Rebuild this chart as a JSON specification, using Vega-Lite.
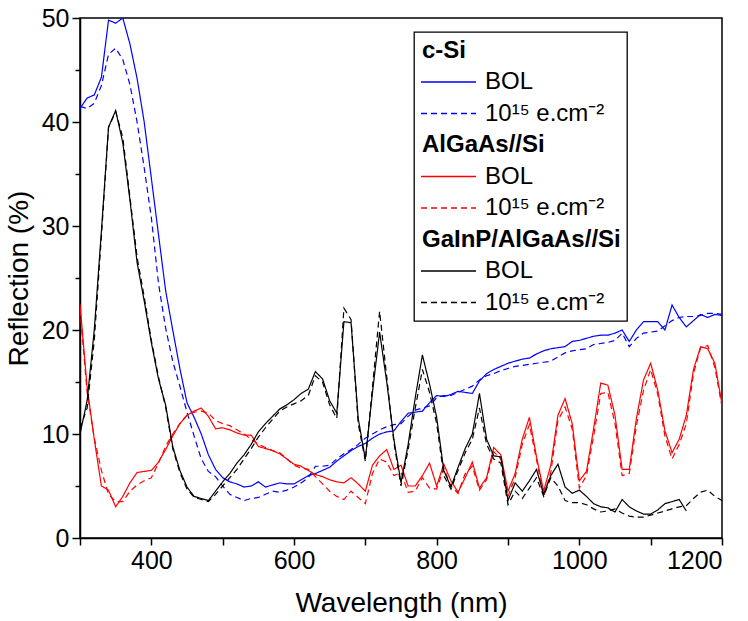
{
  "$schema": "https://vega.github.io/schema/vega-lite/v6.json",
  "width": 642,
  "height": 520,
  "autosize": {"type": "none"},
  "padding": {"left": 80, "top": 18, "right": 26, "bottom": 83},
  "background": "white",
  "config": {
    "font": "Liberation Sans",
    "view": {"stroke": "black", "strokeWidth": 1.5}
  },
  "data": {"values": [
    {"w":300,"c-Si|BOL":41.3,"c-Si|irr":41.5,"AlGaAs//Si|BOL":22.5,"AlGaAs//Si|irr":22.0,"GaInP/AlGaAs//Si|BOL":10.0,"GaInP/AlGaAs//Si|irr":10.5},
    {"w":310,"c-Si|BOL":42.3,"c-Si|irr":41.3,"AlGaAs//Si|BOL":14.5,"AlGaAs//Si|irr":14.0,"GaInP/AlGaAs//Si|BOL":13.2,"GaInP/AlGaAs//Si|irr":12.5},
    {"w":320,"c-Si|BOL":42.6,"c-Si|irr":41.8,"AlGaAs//Si|BOL":9.5,"AlGaAs//Si|irr":9.6,"GaInP/AlGaAs//Si|BOL":20.0,"GaInP/AlGaAs//Si|irr":19.0},
    {"w":330,"c-Si|BOL":44.3,"c-Si|irr":43.5,"AlGaAs//Si|BOL":5.0,"AlGaAs//Si|irr":6.5,"GaInP/AlGaAs//Si|BOL":29.5,"GaInP/AlGaAs//Si|irr":29.0},
    {"w":340,"c-Si|BOL":49.8,"c-Si|irr":46.5,"AlGaAs//Si|BOL":4.6,"AlGaAs//Si|irr":4.2,"GaInP/AlGaAs//Si|BOL":39.5,"GaInP/AlGaAs//Si|irr":39.5},
    {"w":350,"c-Si|BOL":49.5,"c-Si|irr":47.1,"AlGaAs//Si|BOL":3.0,"AlGaAs//Si|irr":3.5,"GaInP/AlGaAs//Si|BOL":41.1,"GaInP/AlGaAs//Si|irr":41.0},
    {"w":360,"c-Si|BOL":50.0,"c-Si|irr":46.0,"AlGaAs//Si|BOL":4.0,"AlGaAs//Si|irr":3.5,"GaInP/AlGaAs//Si|BOL":38.0,"GaInP/AlGaAs//Si|irr":38.5},
    {"w":370,"c-Si|BOL":47.5,"c-Si|irr":43.6,"AlGaAs//Si|BOL":5.3,"AlGaAs//Si|irr":4.5,"GaInP/AlGaAs//Si|BOL":32.5,"GaInP/AlGaAs//Si|irr":32.8},
    {"w":380,"c-Si|BOL":44.2,"c-Si|irr":40.0,"AlGaAs//Si|BOL":6.3,"AlGaAs//Si|irr":5.1,"GaInP/AlGaAs//Si|BOL":26.5,"GaInP/AlGaAs//Si|irr":27.0},
    {"w":390,"c-Si|BOL":40.0,"c-Si|irr":35.6,"AlGaAs//Si|BOL":6.4,"AlGaAs//Si|irr":5.5,"GaInP/AlGaAs//Si|BOL":22.8,"GaInP/AlGaAs//Si|irr":23.2},
    {"w":400,"c-Si|BOL":34.6,"c-Si|irr":30.8,"AlGaAs//Si|BOL":6.5,"AlGaAs//Si|irr":5.8,"GaInP/AlGaAs//Si|BOL":18.8,"GaInP/AlGaAs//Si|irr":19.0},
    {"w":410,"c-Si|BOL":29.2,"c-Si|irr":24.5,"AlGaAs//Si|BOL":7.3,"AlGaAs//Si|irr":7.2,"GaInP/AlGaAs//Si|BOL":15.3,"GaInP/AlGaAs//Si|irr":15.5},
    {"w":420,"c-Si|BOL":23.8,"c-Si|irr":20.2,"AlGaAs//Si|BOL":8.5,"AlGaAs//Si|irr":8.8,"GaInP/AlGaAs//Si|BOL":12.8,"GaInP/AlGaAs//Si|irr":12.6},
    {"w":430,"c-Si|BOL":20.0,"c-Si|irr":17.0,"AlGaAs//Si|BOL":9.8,"AlGaAs//Si|irr":10.0,"GaInP/AlGaAs//Si|BOL":8.8,"GaInP/AlGaAs//Si|irr":8.6},
    {"w":440,"c-Si|BOL":16.3,"c-Si|irr":14.6,"AlGaAs//Si|BOL":11.0,"AlGaAs//Si|irr":11.0,"GaInP/AlGaAs//Si|BOL":6.5,"GaInP/AlGaAs//Si|irr":6.3},
    {"w":450,"c-Si|BOL":13.0,"c-Si|irr":12.1,"AlGaAs//Si|BOL":11.8,"AlGaAs//Si|irr":11.8,"GaInP/AlGaAs//Si|BOL":4.9,"GaInP/AlGaAs//Si|irr":4.7},
    {"w":460,"c-Si|BOL":11.6,"c-Si|irr":9.8,"AlGaAs//Si|BOL":12.2,"AlGaAs//Si|irr":12.1,"GaInP/AlGaAs//Si|BOL":4.0,"GaInP/AlGaAs//Si|irr":3.9},
    {"w":470,"c-Si|BOL":10.0,"c-Si|irr":7.6,"AlGaAs//Si|BOL":12.5,"AlGaAs//Si|irr":12.2,"GaInP/AlGaAs//Si|BOL":3.8,"GaInP/AlGaAs//Si|irr":3.7},
    {"w":480,"c-Si|BOL":8.0,"c-Si|irr":6.4,"AlGaAs//Si|BOL":11.7,"AlGaAs//Si|irr":12.0,"GaInP/AlGaAs//Si|BOL":3.6,"GaInP/AlGaAs//Si|irr":3.5},
    {"w":490,"c-Si|BOL":6.6,"c-Si|irr":5.9,"AlGaAs//Si|BOL":10.5,"AlGaAs//Si|irr":11.3,"GaInP/AlGaAs//Si|BOL":4.5,"GaInP/AlGaAs//Si|irr":4.2},
    {"w":500,"c-Si|BOL":5.8,"c-Si|irr":5.0,"AlGaAs//Si|BOL":10.6,"AlGaAs//Si|irr":11.0,"GaInP/AlGaAs//Si|BOL":5.4,"GaInP/AlGaAs//Si|irr":5.0},
    {"w":510,"c-Si|BOL":5.4,"c-Si|irr":4.2,"AlGaAs//Si|BOL":10.4,"AlGaAs//Si|irr":10.8,"GaInP/AlGaAs//Si|BOL":6.2,"GaInP/AlGaAs//Si|irr":5.8},
    {"w":520,"c-Si|BOL":5.2,"c-Si|irr":3.9,"AlGaAs//Si|BOL":10.1,"AlGaAs//Si|irr":10.4,"GaInP/AlGaAs//Si|BOL":7.2,"GaInP/AlGaAs//Si|irr":6.6},
    {"w":530,"c-Si|BOL":4.9,"c-Si|irr":3.6,"AlGaAs//Si|BOL":9.9,"AlGaAs//Si|irr":10.0,"GaInP/AlGaAs//Si|BOL":8.0,"GaInP/AlGaAs//Si|irr":7.6},
    {"w":540,"c-Si|BOL":5.0,"c-Si|irr":3.8,"AlGaAs//Si|BOL":9.9,"AlGaAs//Si|irr":9.5,"GaInP/AlGaAs//Si|BOL":9.0,"GaInP/AlGaAs//Si|irr":8.6},
    {"w":550,"c-Si|BOL":5.4,"c-Si|irr":3.9,"AlGaAs//Si|BOL":8.8,"AlGaAs//Si|irr":9.0,"GaInP/AlGaAs//Si|BOL":10.2,"GaInP/AlGaAs//Si|irr":9.7},
    {"w":560,"c-Si|BOL":4.9,"c-Si|irr":4.2,"AlGaAs//Si|BOL":8.6,"AlGaAs//Si|irr":8.7,"GaInP/AlGaAs//Si|BOL":11.0,"GaInP/AlGaAs//Si|irr":10.6},
    {"w":570,"c-Si|BOL":5.1,"c-Si|irr":4.5,"AlGaAs//Si|BOL":8.4,"AlGaAs//Si|irr":8.4,"GaInP/AlGaAs//Si|BOL":11.7,"GaInP/AlGaAs//Si|irr":11.4},
    {"w":580,"c-Si|BOL":5.3,"c-Si|irr":4.4,"AlGaAs//Si|BOL":8.1,"AlGaAs//Si|irr":8.2,"GaInP/AlGaAs//Si|BOL":12.4,"GaInP/AlGaAs//Si|irr":12.2},
    {"w":590,"c-Si|BOL":5.2,"c-Si|irr":4.6,"AlGaAs//Si|BOL":7.6,"AlGaAs//Si|irr":7.6,"GaInP/AlGaAs//Si|BOL":12.8,"GaInP/AlGaAs//Si|irr":12.6},
    {"w":600,"c-Si|BOL":5.2,"c-Si|irr":4.9,"AlGaAs//Si|BOL":7.1,"AlGaAs//Si|irr":7.0,"GaInP/AlGaAs//Si|BOL":13.3,"GaInP/AlGaAs//Si|irr":12.9},
    {"w":610,"c-Si|BOL":5.6,"c-Si|irr":5.3,"AlGaAs//Si|BOL":6.9,"AlGaAs//Si|irr":6.7,"GaInP/AlGaAs//Si|BOL":13.9,"GaInP/AlGaAs//Si|irr":13.2},
    {"w":620,"c-Si|BOL":6.0,"c-Si|irr":5.8,"AlGaAs//Si|BOL":6.5,"AlGaAs//Si|irr":6.6,"GaInP/AlGaAs//Si|BOL":14.3,"GaInP/AlGaAs//Si|irr":13.7},
    {"w":630,"c-Si|BOL":6.2,"c-Si|irr":6.9,"AlGaAs//Si|BOL":6.1,"AlGaAs//Si|irr":5.9,"GaInP/AlGaAs//Si|BOL":16.0,"GaInP/AlGaAs//Si|irr":15.6},
    {"w":640,"c-Si|BOL":6.5,"c-Si|irr":6.9,"AlGaAs//Si|BOL":5.9,"AlGaAs//Si|irr":5.2,"GaInP/AlGaAs//Si|BOL":15.3,"GaInP/AlGaAs//Si|irr":15.0},
    {"w":650,"c-Si|BOL":6.8,"c-Si|irr":7.0,"AlGaAs//Si|BOL":5.6,"AlGaAs//Si|irr":4.5,"GaInP/AlGaAs//Si|BOL":13.2,"GaInP/AlGaAs//Si|irr":12.8},
    {"w":660,"c-Si|BOL":7.4,"c-Si|irr":7.6,"AlGaAs//Si|BOL":5.4,"AlGaAs//Si|irr":4.0,"GaInP/AlGaAs//Si|BOL":12.0,"GaInP/AlGaAs//Si|irr":11.5},
    {"w":670,"c-Si|BOL":7.9,"c-Si|irr":8.1,"AlGaAs//Si|BOL":5.3,"AlGaAs//Si|irr":3.7,"GaInP/AlGaAs//Si|BOL":20.8,"GaInP/AlGaAs//Si|irr":22.1},
    {"w":680,"c-Si|BOL":8.4,"c-Si|irr":8.5,"AlGaAs//Si|BOL":5.8,"AlGaAs//Si|irr":4.5,"GaInP/AlGaAs//Si|BOL":20.7,"GaInP/AlGaAs//Si|irr":21.0},
    {"w":690,"c-Si|BOL":8.8,"c-Si|irr":9.0,"AlGaAs//Si|BOL":5.2,"AlGaAs//Si|irr":3.9,"GaInP/AlGaAs//Si|BOL":11.5,"GaInP/AlGaAs//Si|irr":11.0},
    {"w":700,"c-Si|BOL":9.1,"c-Si|irr":9.6,"AlGaAs//Si|BOL":4.5,"AlGaAs//Si|irr":3.3,"GaInP/AlGaAs//Si|BOL":7.6,"GaInP/AlGaAs//Si|irr":7.4},
    {"w":710,"c-Si|BOL":9.6,"c-Si|irr":10.0,"AlGaAs//Si|BOL":7.0,"AlGaAs//Si|irr":6.2,"GaInP/AlGaAs//Si|BOL":14.0,"GaInP/AlGaAs//Si|irr":14.5},
    {"w":720,"c-Si|BOL":10.0,"c-Si|irr":10.4,"AlGaAs//Si|BOL":7.9,"AlGaAs//Si|irr":7.6,"GaInP/AlGaAs//Si|BOL":19.8,"GaInP/AlGaAs//Si|irr":21.8},
    {"w":730,"c-Si|BOL":10.2,"c-Si|irr":10.7,"AlGaAs//Si|BOL":8.5,"AlGaAs//Si|irr":7.3,"GaInP/AlGaAs//Si|BOL":15.0,"GaInP/AlGaAs//Si|irr":15.5},
    {"w":740,"c-Si|BOL":10.3,"c-Si|irr":10.9,"AlGaAs//Si|BOL":6.6,"AlGaAs//Si|irr":6.0,"GaInP/AlGaAs//Si|BOL":9.5,"GaInP/AlGaAs//Si|irr":9.2},
    {"w":750,"c-Si|BOL":11.2,"c-Si|irr":11.0,"AlGaAs//Si|BOL":7.0,"AlGaAs//Si|irr":6.3,"GaInP/AlGaAs//Si|BOL":5.3,"GaInP/AlGaAs//Si|irr":5.0},
    {"w":760,"c-Si|BOL":12.0,"c-Si|irr":11.7,"AlGaAs//Si|BOL":5.0,"AlGaAs//Si|irr":4.4,"GaInP/AlGaAs//Si|BOL":9.0,"GaInP/AlGaAs//Si|irr":8.5},
    {"w":770,"c-Si|BOL":12.1,"c-Si|irr":12.3,"AlGaAs//Si|BOL":5.0,"AlGaAs//Si|irr":4.5,"GaInP/AlGaAs//Si|BOL":13.5,"GaInP/AlGaAs//Si|irr":12.5},
    {"w":780,"c-Si|BOL":12.2,"c-Si|irr":12.5,"AlGaAs//Si|BOL":6.0,"AlGaAs//Si|irr":5.8,"GaInP/AlGaAs//Si|BOL":17.6,"GaInP/AlGaAs//Si|irr":16.2},
    {"w":790,"c-Si|BOL":13.0,"c-Si|irr":12.7,"AlGaAs//Si|BOL":7.2,"AlGaAs//Si|irr":4.8,"GaInP/AlGaAs//Si|BOL":14.8,"GaInP/AlGaAs//Si|irr":14.0},
    {"w":800,"c-Si|BOL":13.7,"c-Si|irr":13.5,"AlGaAs//Si|BOL":5.0,"AlGaAs//Si|irr":4.7,"GaInP/AlGaAs//Si|BOL":11.6,"GaInP/AlGaAs//Si|irr":11.0},
    {"w":810,"c-Si|BOL":13.6,"c-Si|irr":13.7,"AlGaAs//Si|BOL":7.1,"AlGaAs//Si|irr":6.7,"GaInP/AlGaAs//Si|BOL":6.5,"GaInP/AlGaAs//Si|irr":6.0},
    {"w":820,"c-Si|BOL":13.8,"c-Si|irr":13.7,"AlGaAs//Si|BOL":5.5,"AlGaAs//Si|irr":5.0,"GaInP/AlGaAs//Si|BOL":4.9,"GaInP/AlGaAs//Si|irr":4.7},
    {"w":830,"c-Si|BOL":14.1,"c-Si|irr":14.0,"AlGaAs//Si|BOL":4.4,"AlGaAs//Si|irr":4.3,"GaInP/AlGaAs//Si|BOL":6.8,"GaInP/AlGaAs//Si|irr":6.5},
    {"w":840,"c-Si|BOL":14.0,"c-Si|irr":14.3,"AlGaAs//Si|BOL":5.8,"AlGaAs//Si|irr":6.2,"GaInP/AlGaAs//Si|BOL":8.6,"GaInP/AlGaAs//Si|irr":8.2},
    {"w":850,"c-Si|BOL":13.9,"c-Si|irr":14.6,"AlGaAs//Si|BOL":7.3,"AlGaAs//Si|irr":6.9,"GaInP/AlGaAs//Si|BOL":10.0,"GaInP/AlGaAs//Si|irr":9.5},
    {"w":860,"c-Si|BOL":15.1,"c-Si|irr":15.2,"AlGaAs//Si|BOL":4.8,"AlGaAs//Si|irr":4.6,"GaInP/AlGaAs//Si|BOL":13.9,"GaInP/AlGaAs//Si|irr":12.5},
    {"w":870,"c-Si|BOL":15.8,"c-Si|irr":15.6,"AlGaAs//Si|BOL":5.8,"AlGaAs//Si|irr":5.6,"GaInP/AlGaAs//Si|BOL":9.5,"GaInP/AlGaAs//Si|irr":9.0},
    {"w":880,"c-Si|BOL":16.2,"c-Si|irr":15.8,"AlGaAs//Si|BOL":8.7,"AlGaAs//Si|irr":8.3,"GaInP/AlGaAs//Si|BOL":7.9,"GaInP/AlGaAs//Si|irr":7.6},
    {"w":890,"c-Si|BOL":16.5,"c-Si|irr":16.1,"AlGaAs//Si|BOL":8.0,"AlGaAs//Si|irr":7.6,"GaInP/AlGaAs//Si|BOL":7.8,"GaInP/AlGaAs//Si|irr":7.2},
    {"w":900,"c-Si|BOL":16.8,"c-Si|irr":16.3,"AlGaAs//Si|BOL":4.5,"AlGaAs//Si|irr":4.0,"GaInP/AlGaAs//Si|BOL":3.6,"GaInP/AlGaAs//Si|irr":3.2},
    {"w":910,"c-Si|BOL":17.0,"c-Si|irr":16.5,"AlGaAs//Si|BOL":6.2,"AlGaAs//Si|irr":5.8,"GaInP/AlGaAs//Si|BOL":5.3,"GaInP/AlGaAs//Si|irr":4.5},
    {"w":920,"c-Si|BOL":17.2,"c-Si|irr":16.6,"AlGaAs//Si|BOL":9.5,"AlGaAs//Si|irr":9.0,"GaInP/AlGaAs//Si|BOL":4.5,"GaInP/AlGaAs//Si|irr":3.8},
    {"w":930,"c-Si|BOL":17.3,"c-Si|irr":16.7,"AlGaAs//Si|BOL":11.6,"AlGaAs//Si|irr":10.9,"GaInP/AlGaAs//Si|BOL":5.5,"GaInP/AlGaAs//Si|irr":4.8},
    {"w":940,"c-Si|BOL":17.7,"c-Si|irr":16.8,"AlGaAs//Si|BOL":7.8,"AlGaAs//Si|irr":7.5,"GaInP/AlGaAs//Si|BOL":6.6,"GaInP/AlGaAs//Si|irr":5.8},
    {"w":950,"c-Si|BOL":18.0,"c-Si|irr":16.9,"AlGaAs//Si|BOL":4.5,"AlGaAs//Si|irr":4.0,"GaInP/AlGaAs//Si|BOL":4.2,"GaInP/AlGaAs//Si|irr":4.0},
    {"w":960,"c-Si|BOL":18.2,"c-Si|irr":17.0,"AlGaAs//Si|BOL":7.0,"AlGaAs//Si|irr":6.3,"GaInP/AlGaAs//Si|BOL":6.0,"GaInP/AlGaAs//Si|irr":5.8},
    {"w":970,"c-Si|BOL":18.3,"c-Si|irr":17.4,"AlGaAs//Si|BOL":11.8,"AlGaAs//Si|irr":11.3,"GaInP/AlGaAs//Si|BOL":7.1,"GaInP/AlGaAs//Si|irr":5.0},
    {"w":980,"c-Si|BOL":18.4,"c-Si|irr":17.8,"AlGaAs//Si|BOL":13.4,"AlGaAs//Si|irr":12.6,"GaInP/AlGaAs//Si|BOL":4.9,"GaInP/AlGaAs//Si|irr":3.6},
    {"w":990,"c-Si|BOL":18.9,"c-Si|irr":18.0,"AlGaAs//Si|BOL":11.0,"AlGaAs//Si|irr":10.5,"GaInP/AlGaAs//Si|BOL":4.3,"GaInP/AlGaAs//Si|irr":3.4},
    {"w":1000,"c-Si|BOL":19.0,"c-Si|irr":18.1,"AlGaAs//Si|BOL":5.5,"AlGaAs//Si|irr":4.8,"GaInP/AlGaAs//Si|BOL":4.6,"GaInP/AlGaAs//Si|irr":3.4},
    {"w":1010,"c-Si|BOL":19.2,"c-Si|irr":18.2,"AlGaAs//Si|BOL":6.4,"AlGaAs//Si|irr":6.0,"GaInP/AlGaAs//Si|BOL":4.0,"GaInP/AlGaAs//Si|irr":3.2},
    {"w":1020,"c-Si|BOL":19.4,"c-Si|irr":18.6,"AlGaAs//Si|BOL":10.5,"AlGaAs//Si|irr":9.8,"GaInP/AlGaAs//Si|BOL":3.3,"GaInP/AlGaAs//Si|irr":2.8},
    {"w":1030,"c-Si|BOL":19.5,"c-Si|irr":18.7,"AlGaAs//Si|BOL":14.9,"AlGaAs//Si|irr":13.9,"GaInP/AlGaAs//Si|BOL":3.0,"GaInP/AlGaAs//Si|irr":2.5},
    {"w":1040,"c-Si|BOL":19.5,"c-Si|irr":18.8,"AlGaAs//Si|BOL":14.7,"AlGaAs//Si|irr":14.0,"GaInP/AlGaAs//Si|BOL":2.9,"GaInP/AlGaAs//Si|irr":2.6},
    {"w":1050,"c-Si|BOL":19.7,"c-Si|irr":19.0,"AlGaAs//Si|BOL":11.8,"AlGaAs//Si|irr":11.0,"GaInP/AlGaAs//Si|BOL":2.5,"GaInP/AlGaAs//Si|irr":2.8},
    {"w":1060,"c-Si|BOL":20.0,"c-Si|irr":19.7,"AlGaAs//Si|BOL":6.6,"AlGaAs//Si|irr":6.0,"GaInP/AlGaAs//Si|BOL":3.7,"GaInP/AlGaAs//Si|irr":2.4},
    {"w":1070,"c-Si|BOL":18.9,"c-Si|irr":18.4,"AlGaAs//Si|BOL":6.6,"AlGaAs//Si|irr":6.2,"GaInP/AlGaAs//Si|BOL":3.0,"GaInP/AlGaAs//Si|irr":2.1},
    {"w":1080,"c-Si|BOL":20.0,"c-Si|irr":19.2,"AlGaAs//Si|BOL":11.5,"AlGaAs//Si|irr":10.8,"GaInP/AlGaAs//Si|BOL":2.6,"GaInP/AlGaAs//Si|irr":2.0},
    {"w":1090,"c-Si|BOL":20.8,"c-Si|irr":19.7,"AlGaAs//Si|BOL":15.2,"AlGaAs//Si|irr":14.2,"GaInP/AlGaAs//Si|BOL":2.3,"GaInP/AlGaAs//Si|irr":2.0},
    {"w":1100,"c-Si|BOL":20.8,"c-Si|irr":19.8,"AlGaAs//Si|BOL":16.8,"AlGaAs//Si|irr":16.2,"GaInP/AlGaAs//Si|BOL":2.3,"GaInP/AlGaAs//Si|irr":2.2},
    {"w":1110,"c-Si|BOL":20.8,"c-Si|irr":19.9,"AlGaAs//Si|BOL":14.2,"AlGaAs//Si|irr":13.8,"GaInP/AlGaAs//Si|BOL":2.7,"GaInP/AlGaAs//Si|irr":2.4},
    {"w":1120,"c-Si|BOL":20.0,"c-Si|irr":20.4,"AlGaAs//Si|BOL":10.3,"AlGaAs//Si|irr":9.8,"GaInP/AlGaAs//Si|BOL":3.3,"GaInP/AlGaAs//Si|irr":2.6},
    {"w":1130,"c-Si|BOL":22.4,"c-Si|irr":20.9,"AlGaAs//Si|BOL":8.2,"AlGaAs//Si|irr":7.6,"GaInP/AlGaAs//Si|BOL":3.5,"GaInP/AlGaAs//Si|irr":2.8},
    {"w":1140,"c-Si|BOL":21.2,"c-Si|irr":21.2,"AlGaAs//Si|BOL":9.5,"AlGaAs//Si|irr":9.0,"GaInP/AlGaAs//Si|BOL":3.7,"GaInP/AlGaAs//Si|irr":3.0},
    {"w":1150,"c-Si|BOL":20.3,"c-Si|irr":21.3,"AlGaAs//Si|BOL":11.8,"AlGaAs//Si|irr":11.0,"GaInP/AlGaAs//Si|BOL":2.6,"GaInP/AlGaAs//Si|irr":3.1},
    {"w":1160,"c-Si|BOL":20.9,"c-Si|irr":21.3,"AlGaAs//Si|BOL":16.2,"AlGaAs//Si|irr":15.8,"GaInP/AlGaAs//Si|BOL":null,"GaInP/AlGaAs//Si|irr":3.8},
    {"w":1170,"c-Si|BOL":21.5,"c-Si|irr":21.4,"AlGaAs//Si|BOL":18.4,"AlGaAs//Si|irr":18.3,"GaInP/AlGaAs//Si|BOL":null,"GaInP/AlGaAs//Si|irr":4.4},
    {"w":1180,"c-Si|BOL":21.2,"c-Si|irr":21.6,"AlGaAs//Si|BOL":18.2,"AlGaAs//Si|irr":18.5,"GaInP/AlGaAs//Si|BOL":null,"GaInP/AlGaAs//Si|irr":4.6},
    {"w":1190,"c-Si|BOL":21.5,"c-Si|irr":21.6,"AlGaAs//Si|BOL":16.8,"AlGaAs//Si|irr":16.4,"GaInP/AlGaAs//Si|BOL":null,"GaInP/AlGaAs//Si|irr":4.0},
    {"w":1200,"c-Si|BOL":21.4,"c-Si|irr":21.5,"AlGaAs//Si|BOL":12.9,"AlGaAs//Si|irr":12.6,"GaInP/AlGaAs//Si|BOL":null,"GaInP/AlGaAs//Si|irr":3.6}
  ]},
  "transform": [
    {"fold": ["c-Si|BOL","c-Si|irr","AlGaAs//Si|BOL","AlGaAs//Si|irr","GaInP/AlGaAs//Si|BOL","GaInP/AlGaAs//Si|irr"], "as": ["series", "r"]}
  ],
  "mark": {"type": "line", "strokeWidth": 1.2, "clip": true},
  "encoding": {
    "x": {
      "field": "w", "type": "quantitative",
      "scale": {"domain": [300, 1200], "nice": false, "zero": false},
      "axis": {
        "title": "Wavelength (nm)",
        "values": [300,400,500,600,700,800,900,1000,1100,1200],
        "labelExpr": "datum.value % 200 == 0 ? datum.label : ''",
        "format": "d",
        "grid": false,
        "domainColor": "black", "domainWidth": 1.5,
        "tickColor": "black", "tickWidth": 1.5, "tickSize": 7,
        "labelFontSize": 25, "labelColor": "black", "labelPadding": 3, "labelOverlap": false,
        "titleFontSize": 28, "titleFontWeight": "normal", "titleColor": "black", "titlePadding": 16
      }
    },
    "y": {
      "field": "r", "type": "quantitative",
      "scale": {"domain": [0, 50], "nice": false},
      "axis": {
        "title": "Reflection (%)",
        "values": [0,5,10,15,20,25,30,35,40,45,50],
        "labelExpr": "datum.value % 10 == 0 ? datum.label : ''",
        "grid": false,
        "domainColor": "black", "domainWidth": 1.5,
        "tickColor": "black", "tickWidth": 1.5,
        "tickSize": {"condition": {"test": "datum.value % 10 == 0", "value": 8}, "value": 5},
        "labelFontSize": 25, "labelColor": "black", "labelPadding": 3,
        "titleFontSize": 28, "titleFontWeight": "normal", "titleColor": "black", "titlePadding": 8
      }
    },
    "color": {
      "field": "series", "type": "nominal",
      "scale": {
        "domain": ["c-Si","c-Si|BOL","c-Si|irr","AlGaAs//Si","AlGaAs//Si|BOL","AlGaAs//Si|irr","GaInP/AlGaAs//Si","GaInP/AlGaAs//Si|BOL","GaInP/AlGaAs//Si|irr"],
        "range": ["rgba(0,0,0,0)","#0000ff","#0000ff","rgba(0,0,0,0)","#ff0000","#ff0000","rgba(0,0,0,0)","#000000","#000000"]
      },
      "legend": {
        "title": null, "orient": "none", "legendX": 334, "legendY": 14,
        "fillColor": "white", "strokeColor": "black", "padding": 6,
        "symbolType": "stroke", "symbolSize": 3025, "symbolStrokeWidth": 1.3,
        "clipHeight": 25,
        "labelFontSize": 24, "labelColor": "black", "labelOffset": 8, "rowPadding": 6.5, "labelLimit": 300,
        "labelExpr": "indexof(datum.value,'|') < 0 ? datum.value : (indexof(datum.value,'|irr') > 0 ? '10¹⁵ e.cm⁻²' : 'BOL')",
        "encode": {
          "legend": {"update": {"strokeWidth": {"value": 1.3}}},
          "labels": {"update": {
            "fontWeight": {"signal": "indexof(datum.value,'|') < 0 ? 'bold' : 'normal'"},
            "dx": {"signal": "indexof(datum.value,'|') < 0 ? -63 : 0"}
          }}
        }
      }
    },
    "strokeDash": {
      "field": "series", "type": "nominal",
      "scale": {
        "domain": ["c-Si","c-Si|BOL","c-Si|irr","AlGaAs//Si","AlGaAs//Si|BOL","AlGaAs//Si|irr","GaInP/AlGaAs//Si","GaInP/AlGaAs//Si|BOL","GaInP/AlGaAs//Si|irr"],
        "range": [[1,0],[1,0],[6,4],[1,0],[1,0],[6,4],[1,0],[1,0],[6,4]]
      }
    }
  }
}
